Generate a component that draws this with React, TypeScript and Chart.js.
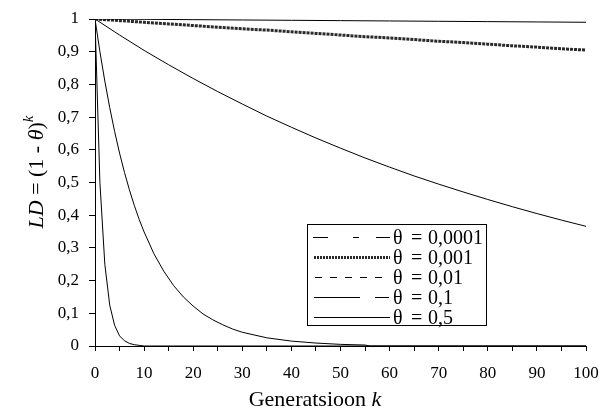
import React, { useEffect, useRef } from 'react';
import { Chart, registerables } from 'chart.js';

Chart.register(...registerables);

// theta = 0.0001
const kA = [0, 10, 20, 30, 40, 50, 60, 70, 80, 90, 100];
const ldA = [1, 0.999, 0.998, 0.997, 0.996, 0.995, 0.994, 0.993, 0.992, 0.991, 0.99];

// theta = 0.001
const kB = [0, 5, 10, 15, 20, 25, 30, 35, 40, 45, 50, 55, 60, 65, 70, 75, 80, 85, 90, 95, 100];
const ldB = [1, 0.995, 0.99, 0.985, 0.98, 0.975, 0.97, 0.966, 0.961, 0.956, 0.951, 0.946, 0.942, 0.937, 0.932, 0.928, 0.923, 0.918, 0.914, 0.909, 0.905];

// theta = 0.01
const kC = [0, 5, 10, 15, 20, 25, 30, 35, 40, 45, 50, 55, 60, 65, 70, 75, 80, 85, 90, 95, 100];
const ldC = [1, 0.951, 0.904, 0.86, 0.818, 0.778, 0.74, 0.703, 0.669, 0.636, 0.605, 0.575, 0.547, 0.52, 0.495, 0.471, 0.448, 0.426, 0.405, 0.385, 0.366];

// theta = 0.1
const kD = [0, 1, 2, 3, 4, 5, 6, 7, 8, 9, 10, 12, 14, 16, 18, 20, 22, 24, 26, 28, 30, 35, 40, 45, 50, 55, 56, 100];
const ldD = [1, 0.9, 0.81, 0.729, 0.656, 0.59, 0.531, 0.478, 0.43, 0.387, 0.349, 0.282, 0.229, 0.185, 0.15, 0.122, 0.098, 0.08, 0.065, 0.052, 0.042, 0.025, 0.015, 0.009, 0.005, 0.003, 0, 0];

// theta = 0.5
const kE = [0, 1, 2, 3, 4, 5, 6, 7, 8, 9, 10, 100];
const ldE = [1, 0.5, 0.25, 0.125, 0.063, 0.031, 0.016, 0.008, 0.004, 0.002, 0, 0];

const legendSymbol = 'θ';
const legendValues = ['0,0001', '0,001', '0,01', '0,1', '0,5'];
const legendLabels = legendValues.map((v) => `${legendSymbol} = ${v}`);

const xTitle = 'Generatsioon ';
const xTitleVar = 'k';

const FONT = '"Liberation Serif", "Times New Roman", serif';

const toPoints = (ks: number[], vs: number[]) => ks.map((k, i) => ({ x: k, y: vs[i] }));

type Part = { text: string; italic?: boolean; size: number; dy?: number };

function drawParts(ctx: CanvasRenderingContext2D, parts: Part[], cx: number, baseline: number) {
  let total = 0;
  const widths = parts.map((p) => {
    ctx.font = `${p.italic ? 'italic ' : ''}${p.size}px ${FONT}`;
    const w = ctx.measureText(p.text).width;
    total += w;
    return w;
  });
  let x = cx - total / 2;
  parts.forEach((p, i) => {
    ctx.font = `${p.italic ? 'italic ' : ''}${p.size}px ${FONT}`;
    ctx.fillText(p.text, x, baseline + (p.dy || 0));
    x += widths[i];
  });
}

const annotations = {
  id: 'annotations',
  afterDraw(chart: any) {
    const ctx: CanvasRenderingContext2D = chart.ctx;
    ctx.save();
    ctx.fillStyle = '#000';
    ctx.textAlign = 'left';
    ctx.textBaseline = 'alphabetic';

    // x title
    drawParts(ctx, [
      { text: xTitle, size: 22 },
      { text: xTitleVar, italic: true, size: 22 },
    ], 315, 406);

    // y title
    ctx.save();
    ctx.translate(43, 172);
    ctx.rotate(-Math.PI / 2);
    drawParts(ctx, [
      { text: 'LD', italic: true, size: 22 },
      { text: ' = (1 - ', size: 22 },
      { text: 'θ', italic: true, size: 22 },
      { text: ')', size: 22 },
      { text: 'k', italic: true, size: 15, dy: -10 },
    ], 0, 0);
    ctx.restore();

    // legend box
    const bx = 307.5, by = 224.5, bw = 179, bh = 101;
    ctx.fillStyle = '#fff';
    ctx.fillRect(bx, by, bw, bh);
    ctx.strokeStyle = '#000';
    ctx.lineWidth = 1;
    ctx.setLineDash([]);
    ctx.strokeRect(bx, by, bw, bh);

    const x0 = 314, x1 = 390;
    const rowY = (i: number) => 237.5 + i * 20;
    const seg = (y: number, a: number, b: number) => {
      ctx.beginPath();
      ctx.moveTo(a, y);
      ctx.lineTo(b, y);
      ctx.stroke();
    };
    ctx.strokeStyle = '#000';
    ctx.lineWidth = 1;
    // 0.0001
    seg(rowY(0), 313, 328);
    seg(rowY(0), 353, 359);
    seg(rowY(0), 376, 390);
    // 0.001
    ctx.lineWidth = 3;
    ctx.strokeStyle = '#2a2a2a';
    ctx.setLineDash([2, 1]);
    seg(rowY(1), x0, x1);
    // 0.01
    ctx.lineWidth = 1;
    ctx.strokeStyle = '#000';
    ctx.setLineDash([7, 8]);
    seg(rowY(2), 315, 390);
    ctx.setLineDash([]);
    // 0.1
    seg(rowY(3), 314, 360);
    seg(rowY(3), 375, 389);
    // 0.5
    seg(rowY(4), x0, x1);

    ctx.fillStyle = '#000';
    ctx.font = `20px ${FONT}`;
    legendValues.forEach((v, i) => {
      const by2 = rowY(i) + 6.5;
      ctx.fillText(legendSymbol, 393, by2);
      ctx.fillText('=', 411, by2);
      ctx.fillText(v, 428, by2);
    });
    ctx.restore();
  },
};

export default function App() {
  const ref = useRef<HTMLCanvasElement>(null);

  useEffect(() => {
    if (!ref.current) return;
    const line = (data: any, extra: any = {}) => ({
      data,
      borderColor: '#000',
      borderWidth: 1,
      pointRadius: 0,
      tension: 0,
      fill: false,
      ...extra,
    });
    const chart = new Chart(ref.current, {
      type: 'line',
      data: {
        datasets: [
          line(toPoints(kA, ldA), { label: legendLabels[0] }),
          line(toPoints(kB, ldB), { label: legendLabels[1], borderWidth: 3, borderColor: '#2a2a2a', borderDash: [3, 1] }),
          line(toPoints(kC, ldC), { label: legendLabels[2] }),
          line(toPoints(kD, ldD), { label: legendLabels[3] }),
          line(toPoints(kE, ldE), { label: legendLabels[4] }),
        ],
      },
      options: {
        animation: false,
        responsive: false,
        maintainAspectRatio: false,
        layout: { padding: { top: 19, right: 14, left: 0, bottom: 0 } },
        plugins: {
          legend: { display: false },
          tooltip: { enabled: false },
        },
        scales: {
          x: {
            type: 'linear',
            min: 0,
            max: 100,
            afterFit: (s: any) => {
              s.height = 67;
              s.paddingLeft = 0;
              s.paddingRight = 0;
            },
            ticks: {
              stepSize: 5,
              autoSkip: false,
              maxRotation: 0,
              padding: 12,
              color: '#000',
              font: { family: FONT, size: 17 },
              callback: (v: any) => (Number(v) % 10 === 0 ? String(v) : ''),
            },
            grid: { drawOnChartArea: false, drawTicks: true, tickLength: 5, color: '#000' },
            border: { color: '#000', width: 1 },
          },
          y: {
            min: 0,
            max: 1,
            afterFit: (s: any) => {
              s.width = 95;
              s.paddingTop = 0;
              s.paddingBottom = 0;
            },
            ticks: {
              stepSize: 0.1,
              padding: 10,
              color: '#000',
              font: { family: FONT, size: 17 },
              callback: (v: any) => String(Math.round(Number(v) * 10) / 10).replace('.', ','),
            },
            grid: { drawOnChartArea: false, drawTicks: true, tickLength: 6, color: '#000' },
            border: { color: '#000', width: 1 },
          },
        },
      },
      plugins: [annotations],
    });
    return () => chart.destroy();
  }, []);

  return (
    <div style={{ position: 'fixed', left: 0, top: 0, width: 600, height: 413, background: '#fff' }}>
      <canvas ref={ref} width={600} height={413} style={{ display: 'block' }} />
    </div>
  );
}
